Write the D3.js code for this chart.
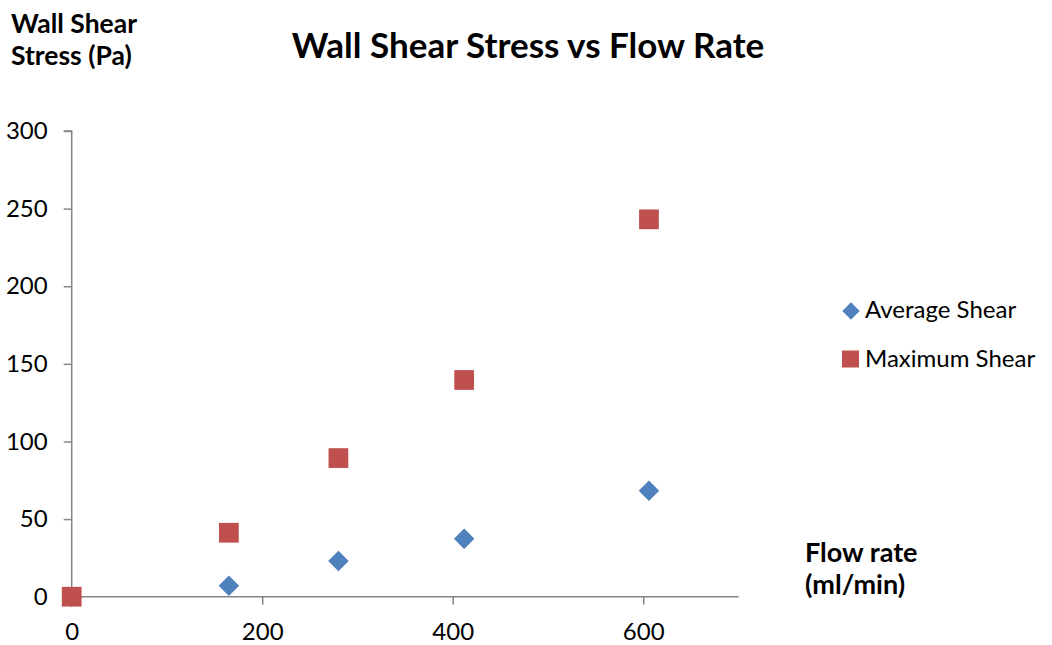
<!DOCTYPE html>
<html><head><meta charset="utf-8">
<script src="https://cdn.jsdelivr.net/npm/d3@7"></script>
<style>body{margin:0;background:#fff}svg{display:block}text{font-family:Lato,"Open Sans",sans-serif;fill:#000}</style>
</head><body><svg id="c" width="1052" height="645"></svg>
<script>
const flowRate = [0, 165, 280, 412, 606];
const averageShear = [0, 7.1, 23.0, 37.4, 68.3];
const maximumShear = [0, 41.2, 89.3, 139.6, 243.1];
const seriesNames = ["Average Shear", "Maximum Shear"];
const xTicks = [0, 200, 400, 600];
const yTicks = [0, 50, 100, 150, 200, 250, 300];

const svg = d3.select("#c");
const x = d3.scaleLinear().domain([0, 700]).range([71.7, 738.5]);
const y = d3.scaleLinear().domain([0, 300]).range([596.7, 131]);
const axisColor = "#868686";

const ya = svg.append("g").attr("transform", `translate(${x(0)},0)`)
  .call(d3.axisLeft(y).tickValues(yTicks).tickSize(8).tickPadding(16).tickFormat(d3.format("d")));
const xa = svg.append("g").attr("transform", `translate(0,${y(0)})`)
  .call(d3.axisBottom(x).tickValues(xTicks).tickSize(8).tickPadding(18).tickFormat(d3.format("d")));
[ya, xa].forEach(g => {
  g.select(".domain").attr("stroke", axisColor).attr("stroke-width", 1.5);
  g.selectAll(".tick line").attr("stroke", axisColor).attr("stroke-width", 1.5);
  g.selectAll(".tick text").style("font-size", "24px").attr("fill", "#000");
});
ya.select(".domain").attr("d", `M-8,${y(300)}H0V${y(0)}`);
xa.select(".domain").attr("d", `M${x(0)},0H${x(700)}`);

const blue = "#4F81BD", red = "#C0504D";
const avg = flowRate.map((f, i) => [f, averageShear[i]]);
const mx = flowRate.map((f, i) => [f, maximumShear[i]]);
svg.append("g").selectAll("path").data(avg).join("path")
  .attr("transform", d => `translate(${x(d[0])},${y(d[1])}) rotate(45)`)
  .attr("d", d3.symbol().type(d3.symbolSquare).size(210)).attr("fill", blue);
svg.append("g").selectAll("path").data(mx).join("path")
  .attr("transform", d => `translate(${x(d[0])},${y(d[1])})`)
  .attr("d", d3.symbol().type(d3.symbolSquare).size(390)).attr("fill", red);

svg.append("text").attr("x", 528).attr("y", 58).attr("text-anchor", "middle")
  .style("font-size", "35px").style("font-weight", "bold").text("Wall Shear Stress vs Flow Rate");
const yt = svg.append("text").style("font-size", "26.5px").style("font-weight", "bold");
yt.append("tspan").attr("x", 11).attr("y", 33).text("Wall Shear");
yt.append("tspan").attr("x", 11).attr("y", 65).text("Stress (Pa)");
const xt = svg.append("text").style("font-size", "27px").style("font-weight", "bold");
xt.append("tspan").attr("x", 805).attr("y", 562).text("Flow rate");
xt.append("tspan").attr("x", 805).attr("y", 594).text("(ml/min)");

const leg = svg.append("g");
leg.append("path").attr("transform", "translate(851,311) rotate(45)")
  .attr("d", d3.symbol().type(d3.symbolSquare).size(150)).attr("fill", blue);
leg.append("path").attr("transform", "translate(850.5,359)")
  .attr("d", d3.symbol().type(d3.symbolSquare).size(290)).attr("fill", red);
leg.append("text").attr("x", 865).attr("y", 318).style("font-size", "24px").text(seriesNames[0]);
leg.append("text").attr("x", 865).attr("y", 367).style("font-size", "24px").text(seriesNames[1]);
</script></body></html>
